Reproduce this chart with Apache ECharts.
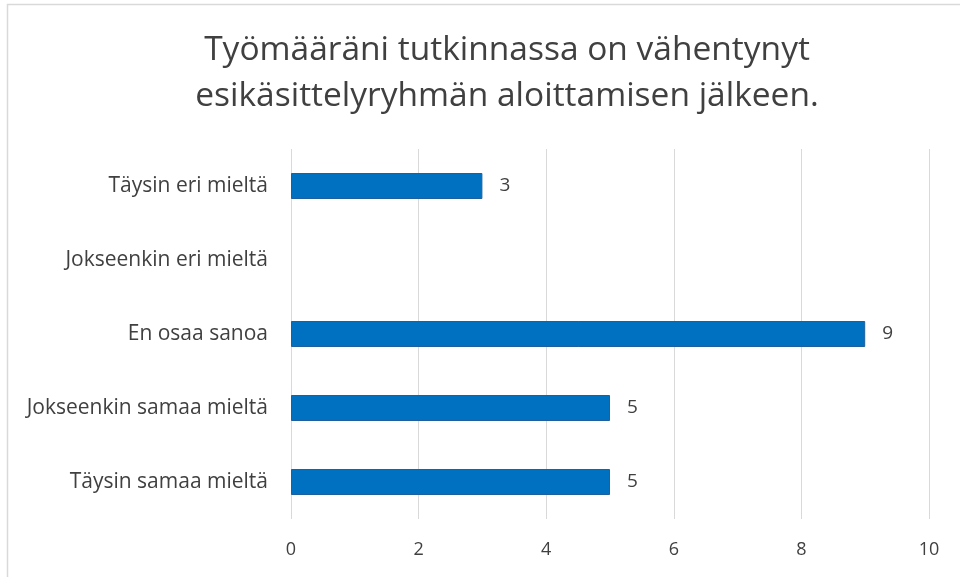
<!DOCTYPE html>
<html>
<head>
<meta charset="utf-8">
<script src="https://cdn.jsdelivr.net/npm/echarts@6/dist/echarts.min.js"></script>
<style>
html,body{margin:0;padding:0;background:#fff;}
#chart{width:960px;height:577px;}
</style>
</head>
<body>
<div id="chart"></div>
<script>
const titleText = "Työmääräni tutkinnassa on vähentynyt\nesikäsittelyryhmän aloittamisen jälkeen.";
const categories = ["Täysin samaa mieltä", "Jokseenkin samaa mieltä", "En osaa sanoa", "Jokseenkin eri mieltä", "Täysin eri mieltä"];
const values = [5, 5, 9, null, 3];
const xTicks = [0, 2, 4, 6, 8, 10];

const chart = echarts.init(document.getElementById('chart'), null, {renderer: 'canvas'});
const fontFam = '"Open Sans", "Noto Sans", sans-serif';
chart.setOption({
  animation: false,
  backgroundColor: '#fff',
  graphic: [{
    type: 'rect',
    shape: {x: 7.5, y: 4.5, width: 980, height: 600},
    style: {fill: 'none', stroke: '#d9d9d9', lineWidth: 1.5},
    silent: true
  }],
  title: {
    text: titleText,
    left: 502,
    textAlign: 'center',
    top: 22,
    textStyle: {fontFamily: fontFam, fontSize: 33.5, fontWeight: 'normal', color: '#404040', lineHeight: 46}
  },
  grid: {left: 291, right: 31, top: 149, bottom: 58, containLabel: false},
  xAxis: {
    type: 'value',
    min: xTicks[0],
    max: xTicks[xTicks.length - 1],
    interval: 2,
    axisLine: {show: false},
    axisTick: {show: false},
    splitLine: {show: true, lineStyle: {color: '#d9d9d9', width: 1}},
    axisLabel: {fontFamily: fontFam, fontSize: 18, color: '#404040', margin: 22}
  },
  yAxis: {
    type: 'category',
    data: categories,
    axisLine: {show: false},
    axisTick: {show: false},
    axisLabel: {fontFamily: fontFam, fontSize: 21, color: '#404040', margin: 23}
  },
  series: [{
    type: 'bar',
    data: values,
    barWidth: 26,
    itemStyle: {color: '#0070c0', borderColor: '#1f5fa0', borderWidth: 1},
    label: {show: true, position: 'right', distance: 17, fontFamily: fontFam, fontSize: 19, color: '#404040'}
  }]
});
</script>
</body>
</html>
